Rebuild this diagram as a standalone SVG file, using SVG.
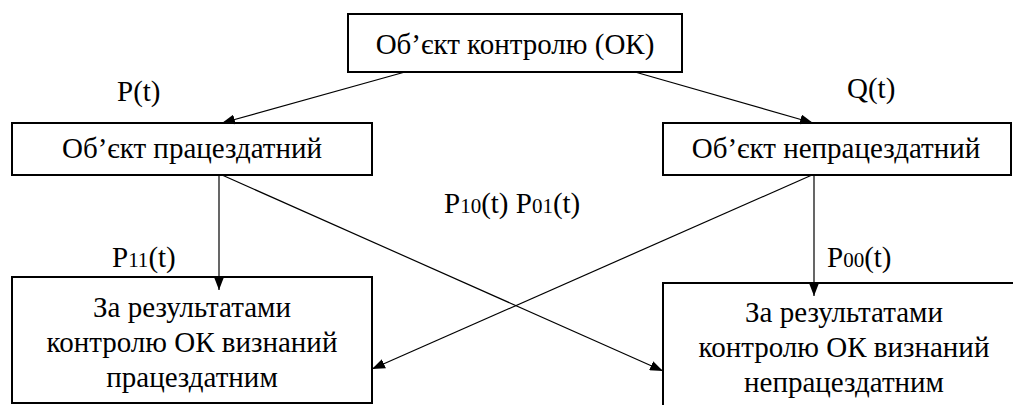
<svg xmlns="http://www.w3.org/2000/svg" width="1013" height="405" viewBox="0 0 1013 405" font-family="Liberation Serif">
<style>
text{font-size:29px;fill:#000}
.c{text-anchor:middle}
.sub{font-size:21px}
.box{fill:#fff;stroke:#000;stroke-width:2}
.ln{fill:none;stroke:#000;stroke-width:1.2}
</style>
<defs>
<marker id="ah" viewBox="0 0 13 10" refX="13" refY="5" markerWidth="13" markerHeight="10" markerUnits="userSpaceOnUse" orient="auto">
<path d="M0,0 L13,5 L0,10 Z" fill="#000"/>
</marker>
</defs>
<rect width="1013" height="405" fill="#fff"/>
<g id="n-ok">
<rect class="box" x="348" y="14" width="334" height="58"/>
<text class="c" x="515" y="54" font-family="Liberation Serif">Об’єкт контролю (ОК)</text>
</g>
<g id="n-good">
<rect class="box" x="12" y="123" width="360" height="52"/>
<text class="c" x="192" y="158" font-family="Liberation Serif">Об’єкт працездатний</text>
</g>
<g id="n-bad">
<rect class="box" x="663" y="123" width="348" height="52"/>
<text class="c" x="836" y="158" font-family="Liberation Serif">Об’єкт непрацездатний</text>
</g>
<g id="n-res-good" font-family="Liberation Serif">
<rect class="box" x="12" y="277" width="360" height="126"/>
<text class="c" x="192" y="317">За результатами</text>
<text class="c" x="192" y="352">контролю ОК визнаний</text>
<text class="c" x="192" y="387">працездатним</text>
</g>
<g id="n-res-bad" font-family="Liberation Serif">
<rect x="663" y="283" width="360" height="130" fill="#fff"/>
<path class="box" d="M663,405 V283 H1013" fill="none"/>
<text class="c" x="844" y="322">За результатами</text>
<text class="c" x="844" y="357">контролю ОК визнаний</text>
<text class="c" x="844" y="392">непрацездатним</text>
</g>
<g id="connectors">
<line class="ln" x1="405" y1="72" x2="222" y2="123" marker-end="url(#ah)"/>
<line class="ln" x1="635" y1="72" x2="813" y2="123" marker-end="url(#ah)"/>
<line class="ln" x1="219" y1="175" x2="219" y2="290" marker-end="url(#ah)"/>
<line class="ln" x1="222" y1="175" x2="663" y2="371" marker-end="url(#ah)"/>
<line class="ln" x1="814" y1="175" x2="814" y2="296" marker-end="url(#ah)"/>
<line class="ln" x1="812" y1="175" x2="372" y2="369" marker-end="url(#ah)"/>
</g>
<g id="labels" font-family="Liberation Serif">
<text x="117" y="101">P(t)</text>
<text x="847" y="98">Q(t)</text>
<text x="112" y="267">P<tspan class="sub">11</tspan>(t)</text>
<text x="827" y="267">P<tspan class="sub">00</tspan>(t)</text>
<text x="444" y="213">P<tspan class="sub">10</tspan>(t) P<tspan class="sub">01</tspan>(t)</text>
</g>
</svg>
